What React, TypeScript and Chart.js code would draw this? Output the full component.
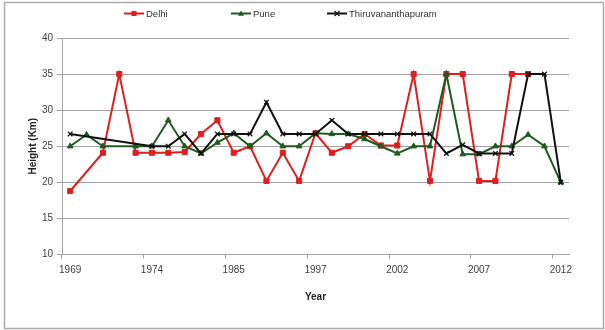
import React, { useEffect, useRef } from 'react';
import { Chart, registerables } from 'chart.js';

Chart.register(...registerables);

// ---- Data ----
const years = [
  '1969', '1970', '1971', '1972', '1973', '1974', '1976', '1978', '1980', '1982',
  '1985', '1987', '1989', '1991', '1994', '1997', '1998', '1999', '2000', '2001',
  '2002', '2003', '2004', '2005', '2006', '2007', '2008', '2009', '2010', '2011', '2012',
];

const delhi: (number | null)[] = [
  18.8, null, 24.1, 35, 24.1, 24.1, 24.1, 24.2, 26.7, 28.6,
  24.1, 25, 20.2, 24.1, 20.2, 26.8, 24.1, 25, 26.7, 25.1,
  25.1, 35, 20.2, 35, 35, 20.2, 20.2, 35, 35, null, null,
];

const pune: (number | null)[] = [
  25, 26.6, 25, null, 25, 25, 28.6, 25, 24, 25.5,
  26.8, 25, 26.8, 25, 25, 26.8, 26.7, 26.7, 26, 25,
  24, 25, 25, 35, 23.9, 23.9, 25, 25, 26.6, 25, 20,
];

const thiru: (number | null)[] = [
  26.7, null, null, null, null, 25, 25, 26.7, 24, 26.7,
  26.7, 26.7, 31.1, 26.7, 26.7, 26.7, 28.6, 26.7, 26.7, 26.7,
  26.7, 26.7, 26.7, 24, 25.2, 24, 24, 24, 35, 35, 20,
];

const seriesNames = ['Delhi', 'Pune', 'Thiruvananthapuram'];
const seriesColors = ['#de1f1f', '#1f5a1f', '#111111'];
const yMin = 10;
const yMax = 40;
const yStep = 5;
const labelEvery = 5;

const FONT = '"Liberation Sans", Arial, sans-serif';
const GRID = '#a3a3a3';

function drawMarker(ctx: CanvasRenderingContext2D, style: string, x: number, y: number, color: string) {
  ctx.save();
  ctx.fillStyle = color;
  ctx.strokeStyle = color;
  if (style === 'rect') {
    ctx.fillRect(x - 2.5, y - 2.5, 5, 5);
  } else if (style === 'triangle') {
    ctx.beginPath();
    ctx.moveTo(x, y - 3);
    ctx.lineTo(x + 3, y + 2.2);
    ctx.lineTo(x - 3, y + 2.2);
    ctx.closePath();
    ctx.fill();
  } else {
    ctx.lineWidth = 1.2;
    ctx.beginPath();
    ctx.moveTo(x - 2.5, y - 2.5);
    ctx.lineTo(x + 2.5, y + 2.5);
    ctx.moveTo(x + 2.5, y - 2.5);
    ctx.lineTo(x - 2.5, y + 2.5);
    ctx.stroke();
  }
  ctx.restore();
}

const framePlugin = {
  id: 'frame',
  beforeDraw(chart: any) {
    const ctx = chart.ctx as CanvasRenderingContext2D;
    ctx.save();
    ctx.fillStyle = '#ffffff';
    ctx.fillRect(0, 0, chart.width, chart.height);
    ctx.strokeStyle = '#ababab';
    ctx.lineWidth = 1.5;
    ctx.strokeRect(4.5, 2.5, chart.width - 6, chart.height - 4);
    ctx.restore();
  },
};

const legendPlugin = {
  id: 'lineLegend',
  afterDraw(chart: any) {
    const ctx = chart.ctx as CanvasRenderingContext2D;
    const starts = [124, 231, 327];
    const y = 13.5;
    chart.data.datasets.forEach((ds: any, i: number) => {
      const x0 = starts[i];
      ctx.save();
      ctx.strokeStyle = ds.borderColor;
      ctx.lineWidth = 2;
      ctx.beginPath();
      ctx.moveTo(x0, y);
      ctx.lineTo(x0 + 20, y);
      ctx.stroke();
      drawMarker(ctx, ds.pointStyle, x0 + 10, y, ds.borderColor);
      ctx.fillStyle = '#333333';
      ctx.font = `9.5px ${FONT}`;
      ctx.textBaseline = 'middle';
      ctx.textAlign = 'left';
      ctx.fillText(ds.label, x0 + 22, y + 0.5);
      ctx.restore();
    });
  },
};

export default function App() {
  const ref = useRef<HTMLCanvasElement | null>(null);

  useEffect(() => {
    document.body.style.margin = '0';
    const canvas = ref.current;
    if (!canvas) return;
    const mk = (label: string, data: (number | null)[], color: string, style: string, order: number) => ({
      label,
      data,
      borderColor: color,
      backgroundColor: color,
      pointBackgroundColor: color,
      pointBorderColor: color,
      pointStyle: style,
      pointRadius: style === 'rect' ? 3.6 : 3.3,
      pointBorderWidth: style === 'crossRot' ? 1.3 : 1,
      borderWidth: 2,
      tension: 0,
      spanGaps: true,
      order,
    });
    const chart = new Chart(canvas, {
      type: 'line',
      data: {
        labels: years,
        datasets: [
          mk(seriesNames[0], delhi, seriesColors[0], 'rect', 3),
          mk(seriesNames[1], pune, seriesColors[1], 'triangle', 2),
          mk(seriesNames[2], thiru, seriesColors[2], 'crossRot', 1),
        ] as any,
      },
      options: {
        responsive: false,
        animation: false,
        devicePixelRatio: 1,
        layout: { padding: { top: 38, right: 36, bottom: 0, left: 0 } },
        plugins: {
          legend: { display: false },
          tooltip: { enabled: false },
        },
        scales: {
          x: {
            type: 'category',
            offset: true,
            afterFit: (s: any) => { s.height = 75.5; },
            grid: {
              offset: true,
              drawOnChartArea: false,
              drawTicks: true,
              tickLength: 4,
              color: (c: any) => (typeof c.index === 'number' && c.index % labelEvery === 0 ? GRID : 'rgba(0,0,0,0)'),
            },
            border: { display: true, color: GRID, width: 1 },
            ticks: {
              autoSkip: false,
              maxRotation: 0,
              padding: 6,
              color: '#404040',
              font: { family: FONT, size: 10 },
              callback: (_v: any, i: number) => (i % labelEvery === 0 ? years[i] : ''),
            },
            title: {
              display: true,
              text: 'Year',
              color: '#222222',
              font: { family: FONT, size: 10, weight: 'bold' },
              padding: { top: 0, bottom: 27 },
            },
          },
          y: {
            min: yMin,
            max: yMax,
            afterFit: (s: any) => { s.width = 62; },
            grid: {
              color: GRID,
              drawTicks: true,
              tickLength: 5,
            },
            border: { display: true, color: GRID, width: 1 },
            ticks: {
              stepSize: yStep,
              padding: 4,
              color: '#404040',
              font: { family: FONT, size: 10 },
            },
            title: {
              display: true,
              text: 'Height (Km)',
              color: '#222222',
              font: { family: FONT, size: 10, weight: 'bold' },
              padding: { top: 27, bottom: 0 },
            },
          },
        },
      },
      plugins: [framePlugin, legendPlugin],
    } as any);
    return () => chart.destroy();
  }, []);

  return (
    <div style={{ width: 605, height: 330 }}>
      <canvas ref={ref} width={605} height={330} style={{ display: 'block', width: 605, height: 330 }} />
    </div>
  );
}
